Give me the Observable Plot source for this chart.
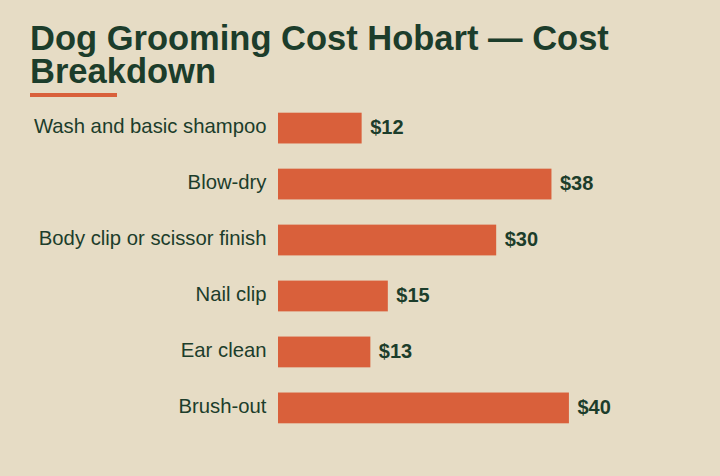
<!DOCTYPE html>
<html>
<head>
<meta charset="utf-8">
<script src="https://cdn.jsdelivr.net/npm/d3@7"></script>
<script src="https://cdn.jsdelivr.net/npm/@observablehq/plot@0.6"></script>
<style>
  html, body { margin: 0; padding: 0; background: #e6dcc5; width: 720px; height: 476px; overflow: hidden; }
  #title { position: absolute; left: 30px; top: 22px; margin: 0; font-family: "Liberation Sans", Arial, sans-serif; font-weight: bold; font-size: 34.5px; line-height: 33px; color: #1c3d2b; width: 680px; }
  #rule { position: absolute; left: 30px; top: 93px; width: 87px; height: 4px; background: #d9603b; }
  #chart { position: absolute; left: 0; top: 100px; }
</style>
</head>
<body>
<h1 id="title">Dog Grooming Cost Hobart — Cost Breakdown</h1>
<div id="rule"></div>
<div id="chart"></div>
<script>
const categories = ["Wash and basic shampoo", "Blow-dry", "Body clip or scissor finish", "Nail clip", "Ear clean", "Brush-out"];
const costs = [11.5, 37.6, 30, 15.1, 12.7, 40];
const valueLabels = ["$12", "$38", "$30", "$15", "$13", "$40"];

const data = categories.map((c, i) => ({category: c, cost: costs[i], label: valueLabels[i]}));

const chart = Plot.plot({
  width: 720,
  height: 376,
  marginLeft: 278,
  marginRight: 122,
  marginTop: 1.5,
  marginBottom: 41.5,
  style: {background: "transparent", fontFamily: "'Liberation Sans', Arial, sans-serif", fontSize: "20px", color: "#1c3d2b"},
  x: {domain: [0, 44], axis: null},
  y: {domain: categories, paddingInner: 0.45, paddingOuter: 0.2, round: false, label: null, tickSize: 0, tickPadding: 12},
  marks: [
    Plot.barX(data, {x: "cost", y: "category", fill: "#d9603b"}),
    Plot.text(data, {x: "cost", y: "category", text: "label", dx: 8, dy: -1, textAnchor: "start", fontWeight: "bold", fill: "#1c3d2b", fontSize: 20}),
    Plot.axisY({tickSize: 0, tickPadding: 12, dy: -2, label: null, fontSize: 20.3, color: "#1c3d2b"})
  ]
});
document.getElementById("chart").appendChild(chart);
</script>
</body>
</html>
